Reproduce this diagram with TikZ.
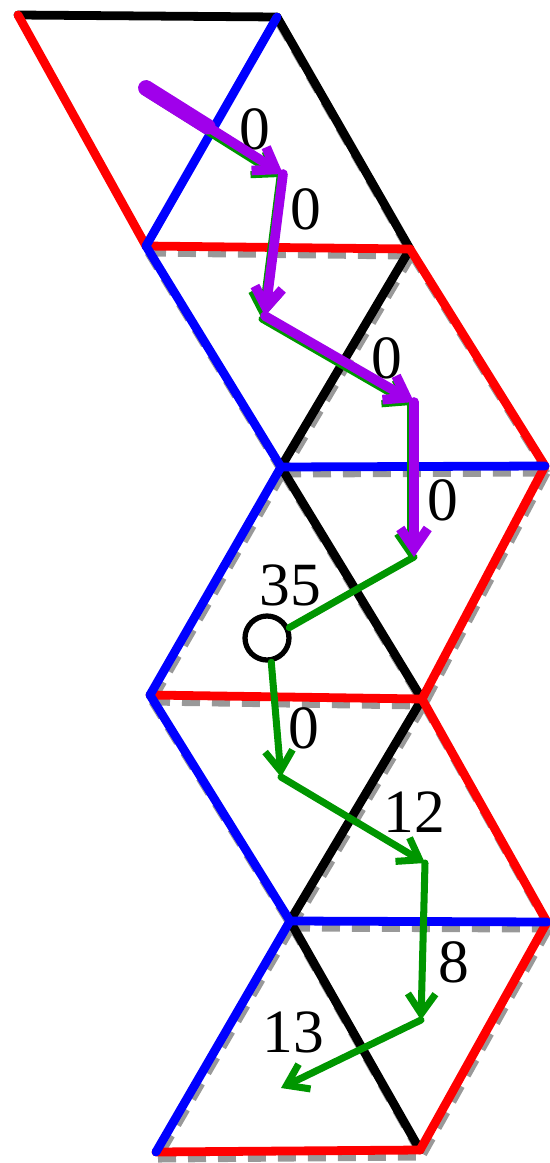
\documentclass[tikz,border=0pt]{standalone}
\usepackage{fontspec}
\setmainfont{Liberation Serif}
\usetikzlibrary{arrows.meta, calc}
\definecolor{walkgreen}{RGB}{0,150,0}
\definecolor{walkpurple}{RGB}{160,0,235}

\begin{document}
\begin{tikzpicture}[x=0.02cm, y=-0.02cm, >={Straight Barb[length=4mm,width=5.5mm]},
    edge/.style={line width=5pt, line cap=round},
    shadow/.style={line width=4pt, black!40, dash pattern=on 3.6mm off 2.4mm},
    greenwalk/.style={line width=4pt, walkgreen, line cap=round, line join=round},
    purplewalk/.style={line width=5.5pt, walkpurple, line cap=round, line join=round},
    cost/.style={font=\fontsize{35}{35}\selectfont, inner sep=0pt},
    ring/.style={circle, draw, line width=3pt, minimum size=0.88cm, inner sep=0pt}]
    \useasboundingbox (0,0) rectangle (550,1163);

    % Lattice vertices
    \coordinate (L0) at (18,15);
    \coordinate (R0) at (277,17);
    \coordinate (L1) at (146,246);
    \coordinate (R1) at (410,249);
    \coordinate (L2) at (281,467);
    \coordinate (R2) at (545,466);
    \coordinate (L3) at (150,695);
    \coordinate (R3) at (422,699);
    \coordinate (L4) at (290,921);
    \coordinate (R4) at (547,922);
    \coordinate (L5) at (156,1152);
    \coordinate (R5) at (420,1150);

    % Dashed grid underneath
    \foreach \a/\b in {R0/R1, L1/R1, L1/L2, R1/L2, R1/R2, L2/R2, L2/L3, L2/R3, R2/R3,
        L3/R3, L3/L4, R3/L4, R3/R4, L4/R4, L4/L5, L4/R5, R4/R5, L5/R5}
        \draw[shadow] ([shift={(2,7)}]\a) -- ([shift={(2,7)}]\b);

    % Edges
    \foreach \a/\b in {L0/R0, R0/R1, R1/L2, L2/R3, R3/L4, L4/R5}
        \draw[edge, black] (\a) -- (\b);
    \foreach \a/\b in {L0/L1, L1/R1, R1/R2, R2/R3, L3/R3, R3/R4, R4/R5, L5/R5}
        \draw[edge, red] (\a) -- (\b);
    \foreach \a/\b in {R0/L1, L1/L2, L2/R2, L2/L3, L3/L4, L4/R4, L4/L5}
        \draw[edge, blue] (\a) -- (\b);

    % Walk points
    \coordinate (p0) at (146,88);
    \coordinate (p1) at (283,174);
    \coordinate (p2) at (265,316);
    \coordinate (p3) at (414,402);
    \coordinate (p4) at (414,557);
    \coordinate (g1) at (352,592);
    \coordinate (q1) at (281,777);
    \coordinate (q2) at (425,863);
    \coordinate (q3) at (421,1020);
    \coordinate (q4) at (281,1088);

    % Nodes
    \node (start) [ring] at (267,638) {};
    \node (c1) [cost] at (255,129) {0};
    \node (c2) [cost] at (306,209) {0};
    \node (c3) [cost] at (387,358) {0};
    \node (c4) [cost] at (443,500) {0};
    \node (c5) [cost] at (290,585) {35};
    \node (c6) [cost] at (304,728) {0};
    \node (c7) [cost] at (414,812) {12};
    \node (c8) [cost] at (454,962) {8};
    \node (c9) [cost] at (293,1032) {13};

    % Connections
    \foreach \a/\b in {p0/p1, p1/p2, p2/p3, p3/p4}
        \draw[greenwalk, ->] ([shift={(-3,3)}]\a) -- ([shift={(-3,3)}]\b);
    \draw[greenwalk] (p4) -- (g1) -- (start.25);
    \draw[greenwalk, ->] (start.-80) -- (q1);
    \foreach \a/\b in {q1/q2, q2/q3, q3/q4}
        \draw[greenwalk, ->] (\a) -- (\b);

    \draw[purplewalk, line width=9pt] (p0) -- ($(p0)!0.45!(p1)$);
    \foreach \a/\b in {p0/p1, p1/p2, p2/p3, p3/p4}
        \draw[purplewalk, ->] (\a) -- (\b);

\end{tikzpicture}
\end{document}
